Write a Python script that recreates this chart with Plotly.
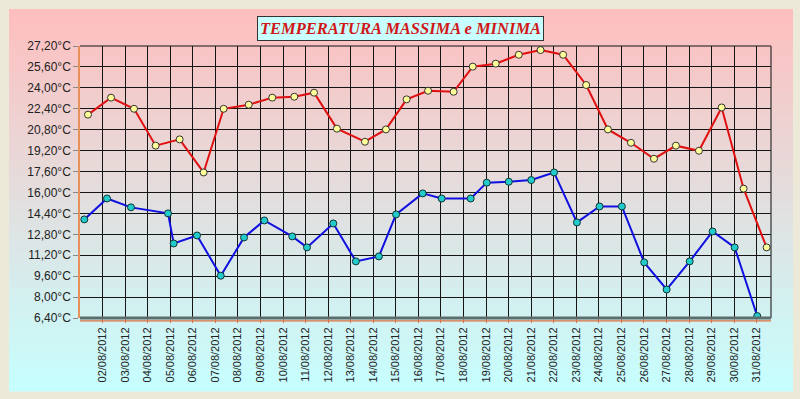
import plotly.graph_objects as go

# ---- data ----
max_times = ["2012-08-01 08:30", "2012-08-02 09:00", "2012-08-03 09:27", "2012-08-04 08:30",
             "2012-08-05 10:00", "2012-08-06 11:30", "2012-08-07 08:50", "2012-08-08 11:30",
             "2012-08-09 12:30", "2012-08-10 12:00", "2012-08-11 09:00", "2012-08-12 09:20",
             "2012-08-13 15:10", "2012-08-14 13:30", "2012-08-15 11:30", "2012-08-16 10:20",
             "2012-08-17 13:30", "2012-08-18 09:50", "2012-08-19 10:20", "2012-08-20 10:50",
             "2012-08-21 10:00", "2012-08-22 10:00", "2012-08-23 10:30", "2012-08-24 09:40",
             "2012-08-25 10:10", "2012-08-26 10:40", "2012-08-27 10:00", "2012-08-28 10:30",
             "2012-08-29 10:40", "2012-08-30 10:00", "2012-08-31 10:30"]
max_vals = [21.95, 23.25, 22.40, 19.58, 20.06, 17.53, 22.40, 22.71, 23.25, 23.32, 23.63,
            20.88, 19.88, 20.82, 23.12, 23.78, 23.70, 25.62, 25.85, 26.53, 26.89, 26.53,
            24.22, 20.82, 19.80, 18.58, 19.58, 19.19, 22.50, 16.29, 11.80]

min_times = ["2012-08-01 04:35", "2012-08-02 04:45", "2012-08-03 06:15", "2012-08-04 21:40",
             "2012-08-05 03:40", "2012-08-06 04:30", "2012-08-07 05:45", "2012-08-08 06:30",
             "2012-08-09 04:05", "2012-08-10 09:50", "2012-08-11 01:30", "2012-08-12 05:30",
             "2012-08-13 05:30", "2012-08-14 06:00", "2012-08-15 00:15", "2012-08-16 04:35",
             "2012-08-17 00:45", "2012-08-18 07:40", "2012-08-19 00:45", "2012-08-20 00:10",
             "2012-08-21 00:05", "2012-08-22 00:20", "2012-08-23 00:40", "2012-08-24 00:45",
             "2012-08-25 00:30", "2012-08-26 00:15", "2012-08-27 00:10", "2012-08-28 00:40",
             "2012-08-29 01:00", "2012-08-30 00:30", "2012-08-31 00:30"]
min_vals = [13.94, 15.54, 14.86, 14.40, 12.10, 12.71, 9.63, 12.56, 13.86, 12.64, 11.80,
            13.63, 10.73, 11.11, 14.32, 15.93, 15.54, 15.54, 16.75, 16.82, 16.95, 17.53,
            13.71, 14.93, 14.93, 10.65, 8.58, 10.73, 13.02, 11.80, 6.55]

x_tick_vals = ["2012-08-%02d" % d for d in range(2, 32)]
x_tick_text = ["%02d/08/2012" % d for d in range(2, 32)]
y_tick_vals = [6.40, 8.00, 9.60, 11.20, 12.80, 14.40, 16.00, 17.60, 19.20, 20.80, 22.40,
               24.00, 25.60, 27.20]
y_tick_text = [("%.2f" % v).replace(".", ",") + "°C" for v in y_tick_vals]

title_text = "TEMPERATURA MASSIMA e MINIMA"

# ---- layout geometry (pixels) ----
W, H = 800, 399
L, R, T, B = 80, 771, 46, 318
pw, ph = R - L, B - T


def px_x(p):
    return (p - L) / pw


def px_y(p):
    return (B - p) / ph


fig = go.Figure()

fig.add_trace(go.Scatter(
    x=max_times, y=max_vals, mode="lines+markers",
    line=dict(color="#E01010", width=2),
    marker=dict(size=7, color="#FFFF99", line=dict(color="#333333", width=1)),
    showlegend=False))

fig.add_trace(go.Scatter(
    x=min_times, y=min_vals, mode="lines+markers",
    line=dict(color="#1010E0", width=2),
    marker=dict(size=7, color="#22CCCC", line=dict(color="#113333", width=1)),
    showlegend=False))

shapes = []
# gradient background bands for the inner panel
top_c = (255, 190, 190)
bot_c = (198, 255, 255)
y_top, y_bot = 9, 391
n = 96
step = (y_bot - y_top) / n
for i in range(n):
    t = (i + 0.5) / n
    c = tuple(int(round(top_c[k] + (bot_c[k] - top_c[k]) * t)) for k in range(3))
    y0 = y_top + i * step
    y1 = y0 + step + 0.6
    shapes.append(dict(type="rect", xref="paper", yref="paper", layer="below",
                       x0=px_x(9), x1=px_x(793), y0=px_y(y1), y1=px_y(y0),
                       fillcolor="rgb(%d,%d,%d)" % c, line=dict(width=0)))
# top and right frame of the grid
shapes.append(dict(type="line", xref="paper", yref="paper", x0=0, x1=1, y0=1, y1=1,
                   line=dict(color="#151515", width=1.2)))
shapes.append(dict(type="line", xref="paper", yref="paper", x0=1, x1=1, y0=0, y1=1,
                   line=dict(color="#303030", width=1.2)))
# gray floor band and orange base line
shapes.append(dict(type="rect", xref="paper", yref="paper", x0=0, x1=1,
                   y0=px_y(319.5), y1=px_y(316.5), fillcolor="#5E6E6E", line=dict(width=0)))
shapes.append(dict(type="line", xref="paper", yref="paper", x0=0, x1=1,
                   y0=px_y(320.8), y1=px_y(320.8), line=dict(color="#E07040", width=1.2)))

fig.update_layout(
    width=W, height=H,
    margin=dict(l=L, r=W - R, t=T, b=H - B),
    paper_bgcolor="#ECE9D8",
    plot_bgcolor="rgba(0,0,0,0)",
    shapes=shapes,
    font=dict(family="Liberation Sans, Arial", color="#222222"),
    annotations=[dict(
        text=title_text, xref="paper", yref="paper",
        x=px_x(400), y=px_y(28.5), xanchor="center", yanchor="middle",
        showarrow=False,
        font=dict(family="Liberation Serif, Times New Roman", size=16.5, color="#D01818",
                  weight="bold", style="italic"),
        bgcolor="#C8FFFF", bordercolor="#333333", borderwidth=1, borderpad=2)],
)

fig.update_xaxes(
    type="date", range=["2012-08-01 00:00", "2012-08-31 15:10"],
    tickmode="array", tickvals=x_tick_vals, ticktext=x_tick_text,
    tickangle=-90, tickfont=dict(size=11, color="#222222"),
    showgrid=True, gridcolor="#151515", gridwidth=1.2,
    ticks="outside", ticklen=4, tickcolor="#E07040",
    showline=False, zeroline=False)

fig.update_yaxes(
    range=[6.40, 27.20], tickmode="array", tickvals=y_tick_vals, ticktext=y_tick_text,
    tickfont=dict(size=12, color="#222222"),
    showgrid=True, gridcolor="#151515", gridwidth=1.2,
    ticks="outside", ticklen=5, tickcolor="#888888",
    showline=True, linecolor="#E8905A", linewidth=1.5, zeroline=False)

fig.write_html("out.html",
               config={"displayModeBar": False},
               post_script="document.body.style.margin='0';document.body.style.overflow='hidden';")
